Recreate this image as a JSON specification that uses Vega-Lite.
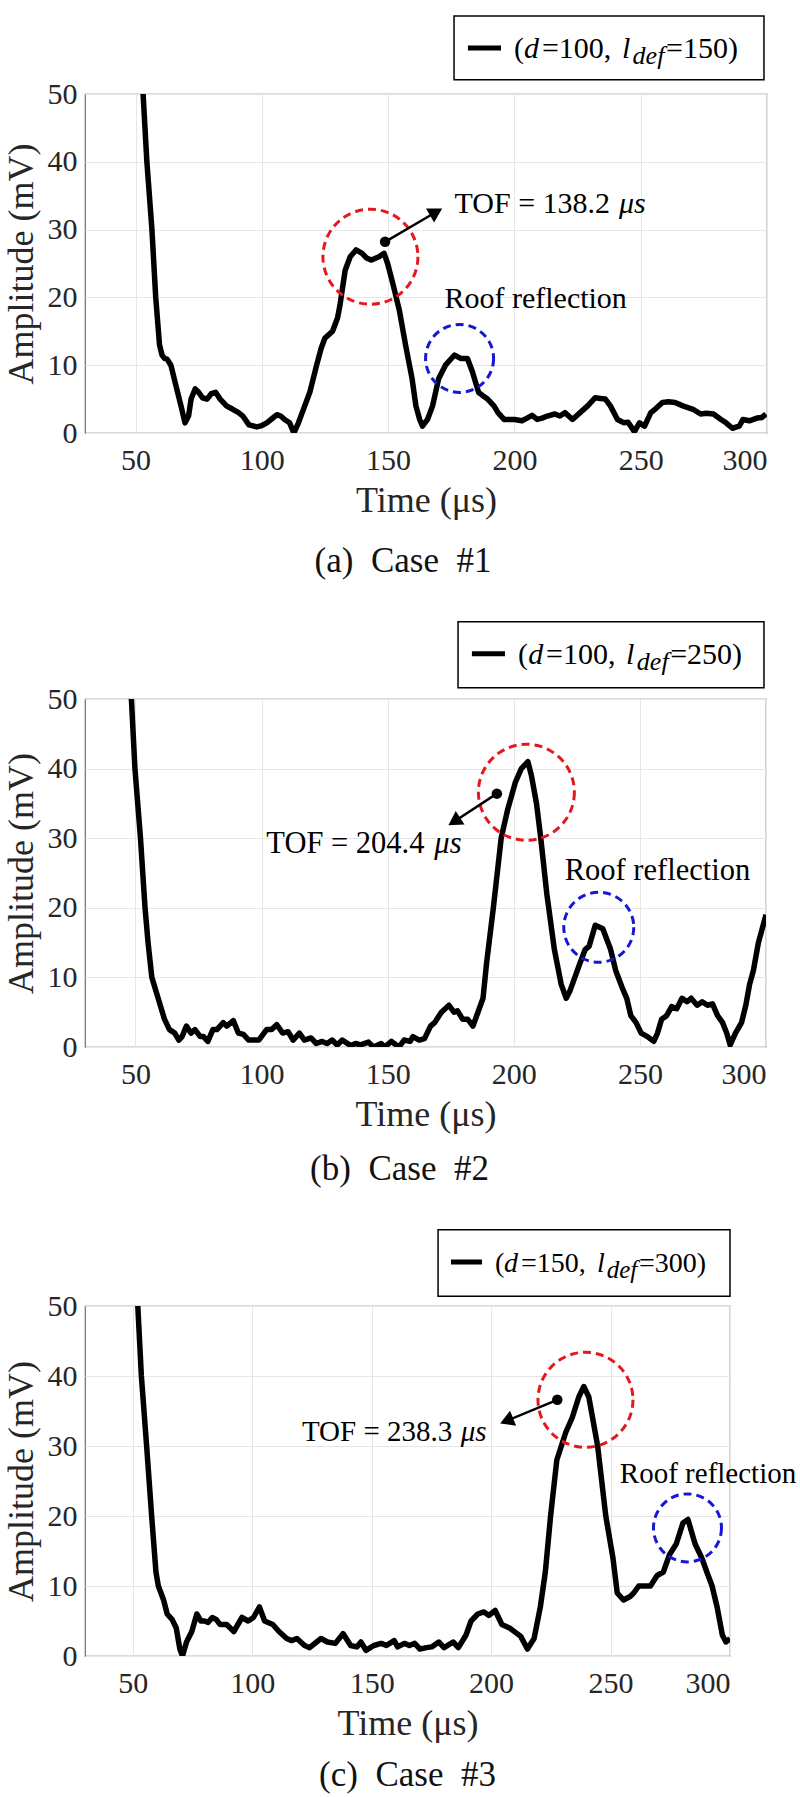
{
  "$schema": "https://vega.github.io/schema/vega-lite/v6.json",
  "padding": {"left": 2, "top": 14, "right": 0, "bottom": 0},
  "background": "white",
  "datasets": {
    "a": [
      {"t":52,"v":56},{"t":53,"v":50},{"t":54.5,"v":40},{"t":56.5,"v":30},{"t":58,"v":20},{"t":59.5,"v":13},{"t":60.5,"v":11.5},{"t":61.5,"v":11},{"t":62.5,"v":10.9},{"t":64,"v":10},{"t":66,"v":7},{"t":68,"v":4},{"t":69.6,"v":1.5},{"t":71,"v":2.5},{"t":72,"v":5},{"t":73.6,"v":6.5},{"t":75,"v":6},{"t":76.5,"v":5.2},{"t":78.3,"v":5},{"t":80,"v":5.8},{"t":81.7,"v":6},{"t":83.5,"v":5},{"t":86,"v":4},{"t":88.5,"v":3.5},{"t":90.8,"v":3},{"t":92.5,"v":2.5},{"t":94.9,"v":1.2},{"t":98,"v":0.9},{"t":100,"v":1.1},{"t":102,"v":1.5},{"t":104,"v":2.1},{"t":106,"v":2.7},{"t":107.5,"v":2.5},{"t":109,"v":2},{"t":111,"v":1.5},{"t":112.7,"v":0},{"t":114.5,"v":1.5},{"t":116,"v":3},{"t":119,"v":6},{"t":121.7,"v":10},{"t":123.5,"v":12.5},{"t":125,"v":14},{"t":128,"v":15},{"t":130,"v":17},{"t":131,"v":19},{"t":133,"v":24},{"t":135,"v":26},{"t":137.3,"v":27},{"t":139.7,"v":26.5},{"t":141.5,"v":25.8},{"t":143.4,"v":25.5},{"t":146.4,"v":26},{"t":148.4,"v":26.5},{"t":149.8,"v":25},{"t":151.9,"v":22},{"t":154.5,"v":18},{"t":156.9,"v":13},{"t":159.5,"v":8},{"t":161,"v":4},{"t":162.5,"v":2},{"t":163.6,"v":1},{"t":165.6,"v":2},{"t":167.6,"v":4},{"t":170,"v":8},{"t":172.7,"v":10},{"t":176.3,"v":11.5},{"t":178.7,"v":11},{"t":181.4,"v":11},{"t":183.4,"v":9},{"t":185.8,"v":6},{"t":187.5,"v":5.5},{"t":189.4,"v":5},{"t":191.9,"v":4},{"t":193.5,"v":3},{"t":195.9,"v":2},{"t":200,"v":2},{"t":203,"v":1.8},{"t":205,"v":2.2},{"t":207,"v":2.6},{"t":209,"v":2},{"t":211,"v":2.2},{"t":213,"v":2.5},{"t":216,"v":2.8},{"t":218,"v":2.5},{"t":220,"v":3},{"t":223,"v":2},{"t":226,"v":3},{"t":229,"v":4},{"t":232,"v":5.2},{"t":234,"v":5.1},{"t":236,"v":5},{"t":238,"v":4},{"t":240.8,"v":2},{"t":243.4,"v":1.5},{"t":245,"v":1.6},{"t":247.5,"v":0.2},{"t":249.5,"v":1.5},{"t":251.5,"v":1},{"t":254,"v":3},{"t":256,"v":3.6},{"t":258.6,"v":4.5},{"t":261,"v":4.6},{"t":263.6,"v":4.5},{"t":266.7,"v":4},{"t":270.7,"v":3.5},{"t":273.7,"v":2.8},{"t":276,"v":2.9},{"t":278.8,"v":2.8},{"t":281.8,"v":2},{"t":283.8,"v":1.5},{"t":286.3,"v":0.7},{"t":289,"v":1},{"t":290.5,"v":2},{"t":293,"v":1.8},{"t":296,"v":2.2},{"t":298,"v":2.3},{"t":299.6,"v":2.8}
    ],
    "b": [
      {"t":47.5,"v":56},{"t":48.4,"v":50},{"t":49.8,"v":40},{"t":52,"v":30},{"t":53.8,"v":20},{"t":55,"v":15},{"t":56.5,"v":10},{"t":59,"v":7},{"t":61.5,"v":4},{"t":63.5,"v":2.5},{"t":65.6,"v":2},{"t":67.2,"v":1},{"t":68.5,"v":1.5},{"t":70.2,"v":3},{"t":72,"v":2},{"t":73.6,"v":2.5},{"t":75.7,"v":1.5},{"t":77,"v":1.5},{"t":78.7,"v":0.8},{"t":80.7,"v":2.5},{"t":82.3,"v":2.5},{"t":84.8,"v":3.5},{"t":86.2,"v":3},{"t":88.8,"v":3.8},{"t":90.8,"v":2},{"t":92.8,"v":1.8},{"t":94.9,"v":1},{"t":98.9,"v":1},{"t":102,"v":2.5},{"t":104,"v":2.5},{"t":106,"v":3.2},{"t":108.4,"v":2},{"t":110.5,"v":2.2},{"t":112.5,"v":1},{"t":115,"v":2},{"t":117,"v":1},{"t":119.6,"v":1.3},{"t":121.7,"v":0.5},{"t":124,"v":0.8},{"t":126,"v":0.5},{"t":128,"v":1},{"t":130,"v":0.3},{"t":132,"v":1},{"t":135.3,"v":0.2},{"t":137.3,"v":0.5},{"t":139.3,"v":0.3},{"t":142.4,"v":0.7},{"t":144.4,"v":0},{"t":147.4,"v":0.5},{"t":148.8,"v":0},{"t":151.5,"v":0.8},{"t":154.5,"v":0},{"t":156.5,"v":1},{"t":158.9,"v":0.8},{"t":160,"v":1.5},{"t":162.5,"v":1},{"t":164.6,"v":1.2},{"t":167,"v":3},{"t":168.6,"v":3.5},{"t":171.3,"v":5},{"t":174.3,"v":6},{"t":176.3,"v":5},{"t":177.7,"v":5.2},{"t":179.7,"v":4},{"t":181.7,"v":4},{"t":183.8,"v":3},{"t":185.8,"v":5},{"t":187.8,"v":7},{"t":189.2,"v":12},{"t":191.9,"v":20},{"t":195,"v":30},{"t":197.5,"v":34},{"t":200.6,"v":38},{"t":203,"v":40},{"t":205.6,"v":41},{"t":207,"v":39},{"t":209,"v":35},{"t":210.7,"v":30},{"t":213.1,"v":22},{"t":216.1,"v":14},{"t":218.8,"v":9},{"t":220.8,"v":7},{"t":222.2,"v":8},{"t":224.2,"v":10},{"t":226.2,"v":12},{"t":228.3,"v":14},{"t":229.9,"v":14.5},{"t":232.3,"v":17.5},{"t":235.3,"v":17},{"t":238.4,"v":14},{"t":240.4,"v":11},{"t":243,"v":8.5},{"t":244.8,"v":7},{"t":246.4,"v":4.5},{"t":248.5,"v":3.5},{"t":250.5,"v":2},{"t":253,"v":1.5},{"t":255.5,"v":0.8},{"t":257,"v":2},{"t":258.6,"v":4},{"t":260.6,"v":4.5},{"t":262.6,"v":5.8},{"t":264.6,"v":5.5},{"t":266.7,"v":7},{"t":268.7,"v":6.5},{"t":270.3,"v":7},{"t":272.7,"v":6},{"t":274.7,"v":6.5},{"t":276.8,"v":6},{"t":278.8,"v":6.2},{"t":280.8,"v":4.5},{"t":282.8,"v":3.5},{"t":284.4,"v":2},{"t":285.8,"v":0.3},{"t":287.9,"v":2},{"t":290.3,"v":3.5},{"t":292,"v":6},{"t":293.5,"v":9},{"t":295,"v":11},{"t":297,"v":15},{"t":300,"v":19}
    ],
    "c": [
      {"t":51.5,"v":56},{"t":52.1,"v":50},{"t":53.6,"v":40},{"t":55.8,"v":30},{"t":57.9,"v":20},{"t":59.7,"v":12},{"t":60.7,"v":10},{"t":62.9,"v":8},{"t":64.4,"v":6},{"t":66.5,"v":5.2},{"t":68.2,"v":4},{"t":69.7,"v":1},{"t":70.8,"v":0},{"t":72.5,"v":2},{"t":74.7,"v":3.5},{"t":76.8,"v":6},{"t":78.5,"v":5},{"t":80,"v":5},{"t":81.5,"v":4.8},{"t":83.3,"v":5.5},{"t":85,"v":5.2},{"t":86.5,"v":4.5},{"t":89.3,"v":4.5},{"t":92.3,"v":3.5},{"t":95.7,"v":5.5},{"t":98.3,"v":5},{"t":100.5,"v":5.5},{"t":103,"v":7},{"t":105.2,"v":5},{"t":108.6,"v":4.5},{"t":111.2,"v":3.5},{"t":114.4,"v":2.5},{"t":116.5,"v":2.2},{"t":118.7,"v":2.5},{"t":121.9,"v":1.5},{"t":124,"v":1.2},{"t":128.8,"v":2.5},{"t":131.5,"v":2},{"t":134.8,"v":1.8},{"t":138,"v":3.2},{"t":141.2,"v":1.5},{"t":143.8,"v":1.3},{"t":145.5,"v":2},{"t":147.6,"v":0.8},{"t":150.9,"v":1.5},{"t":154,"v":1.8},{"t":156.2,"v":1.5},{"t":159.4,"v":2.2},{"t":160.9,"v":1.3},{"t":163.7,"v":1.8},{"t":165.8,"v":1.5},{"t":168,"v":1.8},{"t":170.2,"v":1},{"t":173,"v":1.2},{"t":175.1,"v":1.3},{"t":178.1,"v":2},{"t":180.3,"v":1.2},{"t":184.1,"v":2},{"t":186.3,"v":1.2},{"t":189.5,"v":3},{"t":191.6,"v":5},{"t":194.4,"v":6},{"t":197,"v":6.3},{"t":199.1,"v":5.8},{"t":201.7,"v":6.5},{"t":204.5,"v":4.5},{"t":207.7,"v":4},{"t":210.9,"v":3.2},{"t":212.4,"v":2.8},{"t":215.2,"v":1},{"t":218,"v":2.5},{"t":220.6,"v":7},{"t":222.7,"v":12},{"t":224.9,"v":20},{"t":227.5,"v":28},{"t":231.3,"v":32},{"t":233.9,"v":34},{"t":236.7,"v":37},{"t":238.8,"v":38.5},{"t":240.9,"v":37},{"t":244.6,"v":30},{"t":248,"v":20},{"t":251,"v":14},{"t":252.8,"v":9},{"t":255.4,"v":8},{"t":258.2,"v":8.5},{"t":259.7,"v":9},{"t":261.8,"v":10},{"t":264.5,"v":10},{"t":266.7,"v":10},{"t":269.5,"v":11.5},{"t":272.1,"v":12},{"t":274.7,"v":14.5},{"t":277.5,"v":16},{"t":280.3,"v":19},{"t":282.4,"v":19.5},{"t":285.4,"v":16},{"t":288.2,"v":14},{"t":290.3,"v":12},{"t":292.5,"v":10},{"t":294.6,"v":7},{"t":296.8,"v":3},{"t":298.3,"v":2},{"t":300,"v":2.5}
    ]
  },
  "vconcat": [
    {
      "width": 682, "height": 339,
      "title": {"text": "(a)\u00a0\u00a0Case\u00a0\u00a0#1", "orient": "bottom", "anchor": "middle", "dx": -23, "offset": 26},
      "encoding": {
        "x": {"field": "t", "type": "quantitative", "scale": {"domain": [30, 300], "nice": false, "zero": false}, "axis": {"title": "Time (μs)", "values": [50, 100, 150, 200, 250, 300]}},
        "y": {"field": "v", "type": "quantitative", "scale": {"domain": [0, 50], "nice": false}, "axis": {"title": "Amplitude (mV)", "values": [0, 10, 20, 30, 40, 50]}}
      },
      "layer": [
        {"data": {"name": "a"}, "mark": {"type": "line", "clip": true, "color": "black", "strokeWidth": 5.5, "strokeJoin": "round"}},
        {"data": {"values": [{"t": 143, "v": 26}]}, "mark": {"type": "point", "shape": "circle", "filled": false, "size": 9025, "stroke": "#e3191f", "strokeWidth": 3, "strokeDash": [8, 5], "opacity": 1}},
        {"data": {"values": [{"t": 178.3, "v": 11}]}, "mark": {"type": "point", "shape": "circle", "filled": false, "size": 4624, "stroke": "#1616d6", "strokeWidth": 3, "strokeDash": [8, 5], "opacity": 1}},
        {"data": {"values": [{"t": 148.8, "v": 28.2, "t2": 169.0, "v2": 32.6}]}, "mark": {"type": "rule", "color": "black", "strokeWidth": 2.5}, "encoding": {"x2": {"field": "t2"}, "y2": {"field": "v2"}}},
        {"data": {"values": [{"t": 148.8, "v": 28.2}]}, "mark": {"type": "point", "shape": "circle", "filled": true, "size": 110, "color": "black", "opacity": 1}},
        {"data": {"values": [{"t": 169.0, "v": 32.6}]}, "mark": {"type": "point", "shape": "triangle-up", "filled": true, "size": 260, "angle": 60, "color": "black", "opacity": 1}},
        {"data": {"values": [{"t": 176.3, "v": 33.8, "label": "TOF = 138.2"}, {"t": 172.3, "v": 19.7, "label": "Roof reflection"}]}, "mark": {"type": "text", "font": "Liberation Serif", "align": "left", "baseline": "middle", "fontSize": 30, "color": "black"}, "encoding": {"text": {"field": "label"}}},
        {"data": {"values": [{"t": 241.4, "v": 33.8, "label": "μs"}]}, "mark": {"type": "text", "font": "Liberation Serif", "align": "left", "baseline": "middle", "fontSize": 30, "fontStyle": "italic", "color": "black"}, "encoding": {"text": {"field": "label"}}},
        {"data": {"values": [{"t": 176.1, "t2": 298.8, "v": 61.5, "v2": 52.1}]}, "mark": {"type": "rect", "fill": "white", "stroke": "black", "strokeWidth": 1.5}, "encoding": {"x2": {"field": "t2"}, "y2": {"field": "v2"}}},
        {"data": {"values": [{"t": 181.6, "t2": 194.7, "v": 56.8}]}, "mark": {"type": "rule", "color": "black", "strokeWidth": 5}, "encoding": {"x2": {"field": "t2"}}},
        {"data": {"values": [{"t": 199.8, "v": 55.3, "label": "("}, {"t": 210.9, "v": 55.3, "label": "=100,"}, {"t": 260.0, "v": 55.3, "label": "=150)"}]}, "mark": {"type": "text", "font": "Liberation Serif", "align": "left", "baseline": "alphabetic", "fontSize": 30, "color": "black"}, "encoding": {"text": {"field": "label"}}},
        {"data": {"values": [{"t": 203.8, "v": 55.3, "label": "d"}, {"t": 242.6, "v": 55.3, "label": "l"}]}, "mark": {"type": "text", "font": "Liberation Serif", "align": "left", "baseline": "alphabetic", "fontSize": 30, "fontStyle": "italic", "color": "black"}, "encoding": {"text": {"field": "label"}}},
        {"data": {"values": [{"t": 246.8, "v": 54.4, "label": "def"}]}, "mark": {"type": "text", "font": "Liberation Serif", "align": "left", "baseline": "alphabetic", "fontSize": 26, "fontStyle": "italic", "color": "black"}, "encoding": {"text": {"field": "label"}}}
      ]
    },
    {
      "width": 681, "height": 348,
      "title": {"text": "(b)\u00a0\u00a0Case\u00a0\u00a0#2", "orient": "bottom", "anchor": "middle", "dx": -26, "offset": 20},
      "encoding": {
        "x": {"field": "t", "type": "quantitative", "scale": {"domain": [30, 300], "nice": false, "zero": false}, "axis": {"title": "Time (μs)", "values": [50, 100, 150, 200, 250, 300]}},
        "y": {"field": "v", "type": "quantitative", "scale": {"domain": [0, 50], "nice": false}, "axis": {"title": "Amplitude (mV)", "values": [0, 10, 20, 30, 40, 50]}}
      },
      "layer": [
        {"data": {"name": "b"}, "mark": {"type": "line", "clip": true, "color": "black", "strokeWidth": 5.5, "strokeJoin": "round"}},
        {"data": {"values": [{"t": 205, "v": 36.6}]}, "mark": {"type": "point", "shape": "circle", "filled": false, "size": 9216, "stroke": "#e3191f", "strokeWidth": 3, "strokeDash": [8, 5], "opacity": 1}},
        {"data": {"values": [{"t": 233.7, "v": 17.2}]}, "mark": {"type": "point", "shape": "circle", "filled": false, "size": 4900, "stroke": "#1616d6", "strokeWidth": 3, "strokeDash": [8, 5], "opacity": 1}},
        {"data": {"values": [{"t": 193.3, "v": 36.4, "t2": 176.4, "v2": 32.4}]}, "mark": {"type": "rule", "color": "black", "strokeWidth": 2.5}, "encoding": {"x2": {"field": "t2"}, "y2": {"field": "v2"}}},
        {"data": {"values": [{"t": 193.3, "v": 36.4}]}, "mark": {"type": "point", "shape": "circle", "filled": true, "size": 110, "color": "black", "opacity": 1}},
        {"data": {"values": [{"t": 176.4, "v": 32.4}]}, "mark": {"type": "point", "shape": "triangle-up", "filled": true, "size": 260, "angle": 237, "color": "black", "opacity": 1}},
        {"data": {"values": [{"t": 101.9, "v": 29.2, "label": "TOF = 204.4"}, {"t": 220.2, "v": 25.3, "label": "Roof reflection"}]}, "mark": {"type": "text", "font": "Liberation Serif", "align": "left", "baseline": "middle", "fontSize": 30.5, "color": "black"}, "encoding": {"text": {"field": "label"}}},
        {"data": {"values": [{"t": 168.5, "v": 29.2, "label": "μs"}]}, "mark": {"type": "text", "font": "Liberation Serif", "align": "left", "baseline": "middle", "fontSize": 30.5, "fontStyle": "italic", "color": "black"}, "encoding": {"text": {"field": "label"}}},
        {"data": {"values": [{"t": 177.9, "t2": 299.2, "v": 61.1, "v2": 51.6}]}, "mark": {"type": "rect", "fill": "white", "stroke": "black", "strokeWidth": 1.5}, "encoding": {"x2": {"field": "t2"}, "y2": {"field": "v2"}}},
        {"data": {"values": [{"t": 183.4, "t2": 196.5, "v": 56.5}]}, "mark": {"type": "rule", "color": "black", "strokeWidth": 5}, "encoding": {"x2": {"field": "t2"}}},
        {"data": {"values": [{"t": 201.7, "v": 55.0, "label": "("}, {"t": 212.8, "v": 55.0, "label": "=100,"}, {"t": 262.0, "v": 55.0, "label": "=250)"}]}, "mark": {"type": "text", "font": "Liberation Serif", "align": "left", "baseline": "alphabetic", "fontSize": 30, "color": "black"}, "encoding": {"text": {"field": "label"}}},
        {"data": {"values": [{"t": 205.7, "v": 55.0, "label": "d"}, {"t": 244.5, "v": 55.0, "label": "l"}]}, "mark": {"type": "text", "font": "Liberation Serif", "align": "left", "baseline": "alphabetic", "fontSize": 30, "fontStyle": "italic", "color": "black"}, "encoding": {"text": {"field": "label"}}},
        {"data": {"values": [{"t": 248.8, "v": 54.2, "label": "def"}]}, "mark": {"type": "text", "font": "Liberation Serif", "align": "left", "baseline": "alphabetic", "fontSize": 26, "fontStyle": "italic", "color": "black"}, "encoding": {"text": {"field": "label"}}}
      ]
    },
    {
      "width": 645, "height": 350,
      "title": {"text": "(c)\u00a0\u00a0Case\u00a0\u00a0#3", "orient": "bottom", "anchor": "middle", "dx": 0, "offset": 17},
      "encoding": {
        "x": {"field": "t", "type": "quantitative", "scale": {"domain": [30, 300], "nice": false, "zero": false}, "axis": {"title": "Time (μs)", "values": [50, 100, 150, 200, 250, 300]}},
        "y": {"field": "v", "type": "quantitative", "scale": {"domain": [0, 50], "nice": false}, "axis": {"title": "Amplitude (mV)", "values": [0, 10, 20, 30, 40, 50]}}
      },
      "layer": [
        {"data": {"name": "c"}, "mark": {"type": "line", "clip": true, "color": "black", "strokeWidth": 5.5, "strokeJoin": "round"}},
        {"data": {"values": [{"t": 239.5, "v": 36.6}]}, "mark": {"type": "point", "shape": "circle", "filled": false, "size": 9025, "stroke": "#e3191f", "strokeWidth": 3, "strokeDash": [8, 5], "opacity": 1}},
        {"data": {"values": [{"t": 282.2, "v": 18.3}]}, "mark": {"type": "point", "shape": "circle", "filled": false, "size": 4624, "stroke": "#1616d6", "strokeWidth": 3, "strokeDash": [8, 5], "opacity": 1}},
        {"data": {"values": [{"t": 227.7, "v": 36.6, "t2": 206.5, "v2": 33.6}]}, "mark": {"type": "rule", "color": "black", "strokeWidth": 2.5}, "encoding": {"x2": {"field": "t2"}, "y2": {"field": "v2"}}},
        {"data": {"values": [{"t": 227.7, "v": 36.6}]}, "mark": {"type": "point", "shape": "circle", "filled": true, "size": 110, "color": "black", "opacity": 1}},
        {"data": {"values": [{"t": 206.5, "v": 33.6}]}, "mark": {"type": "point", "shape": "triangle-up", "filled": true, "size": 260, "angle": 248, "color": "black", "opacity": 1}},
        {"data": {"values": [{"t": 120.8, "v": 32, "label": "TOF = 238.3"}, {"t": 253.9, "v": 26, "label": "Roof reflection"}]}, "mark": {"type": "text", "font": "Liberation Serif", "align": "left", "baseline": "middle", "fontSize": 29, "color": "black"}, "encoding": {"text": {"field": "label"}}},
        {"data": {"values": [{"t": 187.3, "v": 32, "label": "μs"}]}, "mark": {"type": "text", "font": "Liberation Serif", "align": "left", "baseline": "middle", "fontSize": 29, "fontStyle": "italic", "color": "black"}, "encoding": {"text": {"field": "label"}}},
        {"data": {"values": [{"t": 177.8, "t2": 300, "v": 60.9, "v2": 51.4}]}, "mark": {"type": "rect", "fill": "white", "stroke": "black", "strokeWidth": 1.5}, "encoding": {"x2": {"field": "t2"}, "y2": {"field": "v2"}}},
        {"data": {"values": [{"t": 183.2, "t2": 196.2, "v": 56.3}]}, "mark": {"type": "rule", "color": "black", "strokeWidth": 5}, "encoding": {"x2": {"field": "t2"}}},
        {"data": {"values": [{"t": 201.6, "v": 54.9, "label": "("}, {"t": 212.5, "v": 54.9, "label": "=150,"}, {"t": 261.9, "v": 54.9, "label": "=300)"}]}, "mark": {"type": "text", "font": "Liberation Serif", "align": "left", "baseline": "alphabetic", "fontSize": 28, "color": "black"}, "encoding": {"text": {"field": "label"}}},
        {"data": {"values": [{"t": 205.4, "v": 54.9, "label": "d"}, {"t": 244.3, "v": 54.9, "label": "l"}]}, "mark": {"type": "text", "font": "Liberation Serif", "align": "left", "baseline": "alphabetic", "fontSize": 28, "fontStyle": "italic", "color": "black"}, "encoding": {"text": {"field": "label"}}},
        {"data": {"values": [{"t": 248.4, "v": 54.0, "label": "def"}]}, "mark": {"type": "text", "font": "Liberation Serif", "align": "left", "baseline": "alphabetic", "fontSize": 25, "fontStyle": "italic", "color": "black"}, "encoding": {"text": {"field": "label"}}}
      ]
    }
  ],
  "config": {
    "font": "Liberation Serif",
    "text": {"font": "Liberation Serif"},
    "view": {"stroke": "#6e6e6e", "strokeWidth": 1.2},
    "axis": {"domain": false, "ticks": false, "grid": true, "gridColor": "#e6e6e6", "gridWidth": 1, "labelFont": "Liberation Serif", "labelFontSize": 30, "labelColor": "#262626", "titleFont": "Liberation Serif", "titleFontSize": 36, "titleFontWeight": "normal", "titleColor": "#262626"},
    "axisX": {"labelFont": "Liberation Serif", "labelPadding": 12, "titlePadding": 8},
    "axisY": {"labelFont": "Liberation Serif", "labelPadding": 8, "titlePadding": 7},
    "title": {"font": "Liberation Serif", "fontSize": 35, "fontWeight": "normal", "color": "#111111"},
    "concat": {"spacing": 40}
  }
}
